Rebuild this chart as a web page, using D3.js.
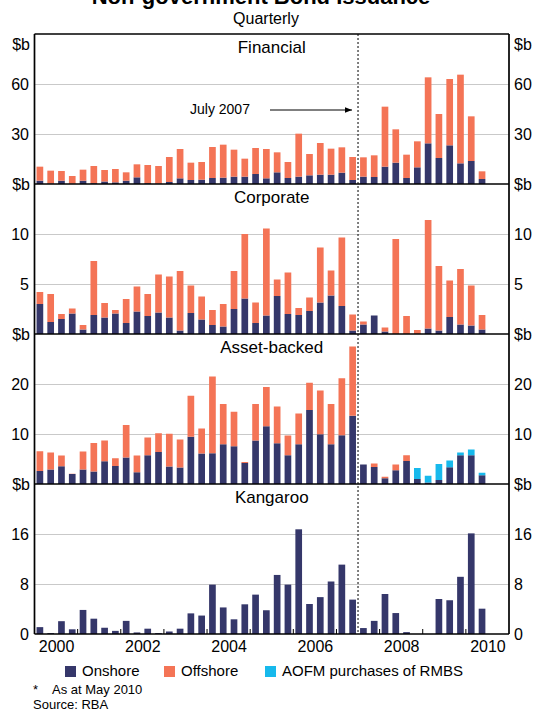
<!DOCTYPE html>
<html>
<head>
<meta charset="utf-8">
<script src="https://cdn.jsdelivr.net/npm/d3@7"></script>
<style>
body { margin: 0; background: #fff; }
svg { font-family: Arial, "Liberation Sans", sans-serif; }
</style>
</head>
<body>
<svg></svg>
<script>
// quarterly, 2000 Q1 .. 2010 Q2
let quarters = [
  '2000Q1','2000Q2','2000Q3','2000Q4','2001Q1','2001Q2','2001Q3','2001Q4',
  '2002Q1','2002Q2','2002Q3','2002Q4','2003Q1','2003Q2','2003Q3','2003Q4',
  '2004Q1','2004Q2','2004Q3','2004Q4','2005Q1','2005Q2','2005Q3','2005Q4',
  '2006Q1','2006Q2','2006Q3','2006Q4','2007Q1','2007Q2','2007Q3','2007Q4',
  '2008Q1','2008Q2','2008Q3','2008Q4','2009Q1','2009Q2','2009Q3','2009Q4',
  '2010Q1','2010Q2'
]

let financialOnshore = [2.0,0.3,2.0,0.2,2.0,0.5,1.5,1.0,2.0,4.0,0.5,0.3,1.2,3.4,2.4,2.6,3.6,3.8,4.4,4.4,6.0,3.4,
  7.0,3.6,4.4,5.2,5.6,5.6,6.8,2.4,4.4,4.2,10.4,12.8,3.6,10.0,24.4,15.6,23.2,12.4,13.8,3.0]
let financialOffshore = [8.4,7.7,5.8,4.6,6.6,10.3,6.9,8.0,5.0,7.8,10.9,10.5,15.0,17.6,10.4,10.6,18.6,19.8,16.2,10.8,15.6,17.6,
  12.0,9.6,25.8,12.8,19.0,15.6,15.2,13.8,11.6,13.0,36.0,20.0,14.0,15.6,39.6,26.4,39.8,53.2,26.8,4.6]

let corporateOnshore = [3.0,1.2,1.5,2.05,0.45,1.9,1.65,2.05,1.1,2.25,1.8,2.15,1.65,0.35,2.1,1.45,0.9,0.75,2.5,3.55,1.1,1.85,
  3.8,2.0,1.9,2.3,3.15,3.85,2.8,0.35,0.95,1.85,0.25,0,0,0,0.55,0.35,1.7,0.95,0.85,0.45]
let corporateOffshore = [1.2,2.8,0.5,0.5,0.45,5.4,1.45,0.35,2.4,2.5,2.2,3.8,4.1,5.95,2.75,2.3,1.5,2.25,3.8,6.45,2.05,8.7,
  1.65,4.15,0.7,1.35,5.5,2.5,6.85,1.6,0.3,0,0.4,9.5,1.8,0.4,10.85,6.45,3.65,5.55,4.0,1.45]

let assetOnshore = [2.6,2.9,3.55,2.0,2.9,2.5,4.55,3.6,5.3,2.35,5.75,6.4,3.5,3.3,9.45,6.1,6.15,7.95,7.55,4.2,8.7,11.55,
  8.15,5.75,7.95,14.8,9.95,7.95,9.75,13.65,3.9,3.4,1.15,2.75,4.6,1.0,0.3,0.8,3.35,5.75,5.75,1.75]
let assetOffshore = [3.95,3.4,2.15,0.05,3.6,5.7,4.15,1.55,6.5,3.35,3.55,3.75,6.55,5.6,8.2,5.0,15.35,8.05,6.9,0.2,7.3,7.85,
  7.35,3.95,6.15,5.45,8.75,8.05,11.4,13.85,0,0.7,0.3,1.15,1.15,0,0,0,0,0,0,0]
let assetAofm = [0,0,0,0,0,0,0,0,0,0,0,0,0,0,0,0,0,0,0,0,0,0,
  0,0,0,0,0,0,0,0,0,0,0,0,0,2.2,1.35,3.2,1.35,0.55,1.15,0.5]

let kangarooOnshore = [1.1,0.15,2.05,0.75,3.85,2.45,1.0,0.5,2.1,0.25,0.85,0.15,0.4,0.85,3.3,2.95,7.9,4.25,2.35,4.75,6.3,3.8,
  9.45,7.9,16.75,4.8,5.9,8.4,11.1,5.5,0.95,2.1,6.4,3.35,0.3,0,0,5.6,5.4,9.15,16.1,4.05]

let panelNames = ['Financial', 'Corporate', 'Asset-backed', 'Kangaroo']
let panelMax = [90, 15, 30, 24]
let panelTicks = [[30, 60], [5, 10], [10, 20], [8, 16]]
let yearLabels = [2000, 2002, 2004, 2006, 2008, 2010]
let legendNames = ['Onshore', 'Offshore', 'AOFM purchases of RMBS']

let colors = { onshore: '#35376a', offshore: '#f47456', aofm: '#17b9ec' }

let w = 535
let h = 710
let left = 34.5
let right = 509
let top0 = 34
let panelH = 150
let fontFamily = 'Arial, "Liberation Sans", sans-serif'

let svg = d3.select('svg').attr('width', w).attr('height', h)

let xTime = d3.scaleLinear().domain([2000, 2011]).range([left, right])
let xBand = d3.scaleBand()
  .domain(quarters)
  .range([xTime(2000), xTime(2010.5)])
  .paddingInner(0.38)
  .paddingOuter(0.19)

let panelData = [
  { onshore: financialOnshore, offshore: financialOffshore },
  { onshore: corporateOnshore, offshore: corporateOffshore },
  { onshore: assetOnshore, offshore: assetOffshore, aofm: assetAofm },
  { onshore: kangarooOnshore }
]

// titles
svg.append('text').attr('x', 261).attr('y', 4).attr('text-anchor', 'middle')
  .attr('font-size', 22).attr('font-weight', 'bold').text('Non-government Bond Issuance')
svg.append('text').attr('x', 266).attr('y', 24).attr('text-anchor', 'middle')
  .attr('font-size', 16).text('Quarterly')

let drawPanel = (p) => {
  let y0 = top0 + p * panelH
  let yScale = d3.scaleLinear().domain([0, panelMax[p]]).range([y0 + panelH, y0])
  let g = svg.append('g')

  // grid
  g.append('g')
    .attr('transform', 'translate(' + left + ',0)')
    .call(d3.axisRight(yScale).tickValues(panelTicks[p]).tickSize(right - left).tickFormat(''))
    .call(s => s.select('.domain').remove())
    .selectAll('line').attr('stroke', '#c9c9c9').attr('stroke-width', 1)

  // bars
  let keys = Object.keys(panelData[p])
  let rows = quarters.map((q, i) => {
    let r = { q: q }
    keys.forEach(k => { r[k] = panelData[p][k][i] })
    return r
  })
  let stacked = d3.stack().keys(keys)(rows)
  g.selectAll('g.layer')
    .data(stacked)
    .enter()
    .append('g')
    .attr('class', 'layer')
    .attr('fill', d => colors[d.key])
    .selectAll('rect')
    .data(d => d)
    .enter()
    .append('rect')
    .attr('x', d => xBand(d.data.q))
    .attr('width', xBand.bandwidth())
    .attr('y', d => yScale(d[1]))
    .attr('height', d => yScale(d[0]) - yScale(d[1]))

  // tick labels
  let yl = g.append('g')
    .attr('transform', 'translate(' + left + ',0)')
    .call(d3.axisLeft(yScale).tickValues(panelTicks[p]).tickSize(0).tickPadding(5.5))
  let yr = g.append('g')
    .attr('transform', 'translate(' + right + ',0)')
    .call(d3.axisRight(yScale).tickValues(panelTicks[p]).tickSize(0).tickPadding(5))
  ;[yl, yr].forEach(a => {
    a.select('.domain').remove()
    a.selectAll('text').attr('font-size', 16).attr('font-family', fontFamily).attr('fill', '#000')
  })

  // panel name
  g.append('text').attr('x', (left + right) / 2).attr('y', y0 + 19).attr('text-anchor', 'middle')
    .attr('font-size', 17).text(panelNames[p])

  // unit labels
  let unitY = p == 0 ? y0 + 10 : y0
  g.append('text').attr('x', 30).attr('y', unitY).attr('dy', '0.35em').attr('text-anchor', 'end')
    .attr('font-size', 16).text('$b')
  g.append('text').attr('x', 514).attr('y', unitY).attr('dy', '0.35em')
    .attr('font-size', 16).text('$b')
}

d3.range(4).forEach(drawPanel)

let bottom = top0 + 4 * panelH

// bottom zero labels
svg.append('text').attr('x', 29).attr('y', bottom).attr('dy', '0.35em').attr('text-anchor', 'end')
  .attr('font-size', 16).text('0')
svg.append('text').attr('x', 514).attr('y', bottom).attr('dy', '0.35em')
  .attr('font-size', 16).text('0')

// frame and separators
d3.range(5).forEach(i => {
  svg.append('line').attr('x1', left).attr('x2', right)
    .attr('y1', top0 + i * panelH).attr('y2', top0 + i * panelH)
    .attr('stroke', '#000').attr('stroke-width', 1.7)
})
svg.append('line').attr('x1', left).attr('x2', left).attr('y1', top0).attr('y2', bottom)
  .attr('stroke', '#000').attr('stroke-width', 1.7)
svg.append('line').attr('x1', right).attr('x2', right).attr('y1', top0).attr('y2', bottom)
  .attr('stroke', '#000').attr('stroke-width', 1.7)

// year ticks on the bottom axis
svg.append('g').selectAll('line')
  .data(d3.range(2001, 2011))
  .enter()
  .append('line')
  .attr('x1', d => xTime(d)).attr('x2', d => xTime(d))
  .attr('y1', bottom).attr('y2', bottom - 5)
  .attr('stroke', '#000').attr('stroke-width', 1)

let xAxis = d3.axisBottom(xTime)
  .tickValues(yearLabels.map(d => d + 0.5))
  .tickFormat(d => Math.floor(d))
  .tickSize(0)
  .tickPadding(7)
let xa = svg.append('g').attr('transform', 'translate(0,' + bottom + ')').call(xAxis)
xa.select('.domain').remove()
xa.selectAll('text').attr('font-size', 16).attr('font-family', fontFamily).attr('fill', '#000')

// July 2007 marker
let xJuly = xTime(2007.5)
svg.append('line').attr('x1', xJuly).attr('x2', xJuly).attr('y1', top0).attr('y2', bottom)
  .attr('stroke', '#000').attr('stroke-width', 1).attr('stroke-dasharray', '2,2')

svg.append('defs').append('marker')
  .attr('id', 'arrow').attr('viewBox', '0 0 10 10').attr('refX', 10).attr('refY', 5)
  .attr('markerWidth', 7).attr('markerHeight', 7).attr('orient', 'auto')
  .append('path').attr('d', 'M0,1L10,5L0,9z').attr('fill', '#000')
svg.append('line').attr('x1', 270).attr('x2', xJuly - 6).attr('y1', 110).attr('y2', 110)
  .attr('stroke', '#000').attr('stroke-width', 1).attr('marker-end', 'url(#arrow)')
svg.append('text').attr('x', 190).attr('y', 114).attr('font-size', 14).text('July 2007')

// legend
let legendX = [65, 164, 265]
let lg = svg.append('g')
legendNames.forEach((n, i) => {
  lg.append('rect').attr('x', legendX[i]).attr('y', 666).attr('width', 11).attr('height', 11)
    .attr('fill', [colors.onshore, colors.offshore, colors.aofm][i])
  lg.append('text').attr('x', legendX[i] + 17).attr('y', 676).attr('font-size', 15).text(n)
})

// notes
svg.append('text').attr('x', 33).attr('y', 694).attr('font-size', 13).text('*')
svg.append('text').attr('x', 52).attr('y', 694).attr('font-size', 13).text('As at May 2010')
svg.append('text').attr('x', 33).attr('y', 709).attr('font-size', 13).text('Source: RBA')
</script>
</body>
</html>
